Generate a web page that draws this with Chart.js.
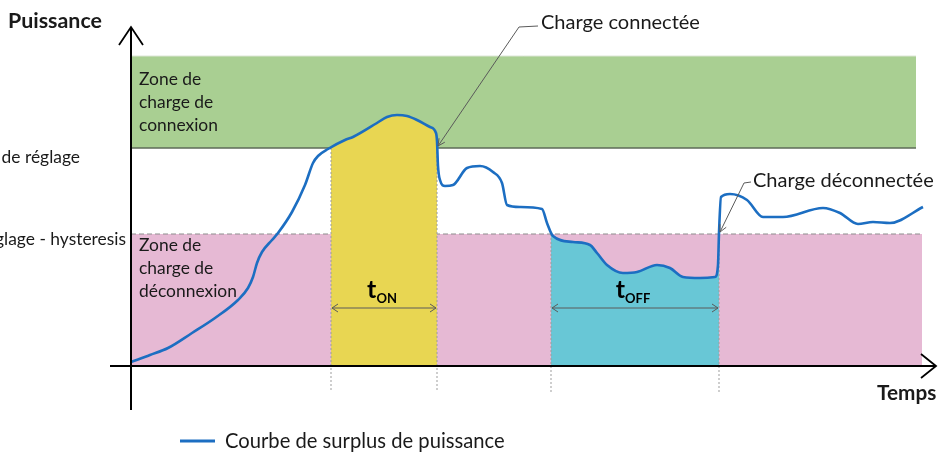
<!DOCTYPE html>
<html><head><meta charset="utf-8">
<script src="https://cdn.jsdelivr.net/npm/chart.js@4/dist/chart.umd.min.js"></script>
<style>html,body{margin:0;padding:0;background:#fff;}canvas{display:block;}</style>
</head><body>
<canvas id="c" width="938" height="454"></canvas>
<script>
// ---------- data (time / power in arbitrary units) ----------
const curveLabel = 'Courbe de surplus de puissance';
const curveX = [0,19,37,61,84,107,117,122,126,131,141,147,161,174,182,187,197,214,222,246,256,266,276,286,299,305,306,307,309,314,322,336,349,362,371,376,389,411,416,422,442,459,466,476,492,506,526,539,552,569,584,587,588,590,599,616,632,652,692,709,727,742,759,792];
const curveY = [4,11,18,33,48,66,78,89,103,114,126,133,154,181,203,210,217,226,229,243,249,251,250,246,239,233,225,200,186,180,181,198,200,194,183,161,159,157,143,130,124,121,113,101,93,94,101,98,89,88,89,101,133,169,172,166,149,149,158,153,142,144,143,159];
const onFillX = [200,214,222,246,256,266,276,286,299,305,306];
const onFillY = [218,226,229,243,249,251,250,246,239,233,225];
const offFillX = [420,422,442,459,466,476,492,506,526,539,552,569,584,587,588];
const offFillY = [134,130,124,121,113,101,93,94,101,98,89,88,89,101,133];
const seuilReglage = 218;
const seuilHysteresis = 132;
const zoneConnexionTop = 310;
const zoneConnexionEnd = 785;
const zoneDeconnexionEnd = 791;
const tOn = [200, 306];
const tOff = [420, 588];
const markerBottom = -26;
const durationLevel = 58;
const yAxisLabel = 'Puissance';
const xAxisLabel = 'Temps';
const seuilLabels = ['Seuil de réglage', 'Seuil de réglage - hysteresis'];
const zoneConnexionLines = ['Zone de', 'charge de', 'connexion'];
const zoneDeconnexionLines = ['Zone de', 'charge de', 'déconnexion'];
const calloutOn = 'Charge connectée';
const calloutOff = 'Charge déconnectée';

// ---------- styles ----------
const FAMILY = 'Lato, "Noto Sans", sans-serif';
const BLUE = '#1c6ec2';
const GREEN = '#a9cf92';
const PINK = '#e6b9d4';
const YELLOW = '#e8d652';
const CYAN = '#68c7d6';
const GREY = '#5a5a5a';

const pts = (xs, ys) => xs.map((v, i) => ({x: v, y: ys[i]}));
const hline = (x0, x1, v) => [{x: x0, y: v}, {x: x1, y: v}];
const vline = (xv, y0, y1) => [{x: xv, y: y0}, {x: xv, y: y1}];
const marker = (d) => ({data: d, borderColor: '#9d9d9d', borderWidth: 1, borderDash: [2, 2], fill: false});

const datasets = [
  {label: curveLabel, data: pts(curveX, curveY), borderColor: BLUE, borderWidth: 2.6, cubicInterpolationMode: 'monotone', fill: false},
  marker(vline(tOn[0], seuilReglage, markerBottom)),
  marker(vline(tOn[1], seuilReglage, markerBottom)),
  marker(vline(tOff[0], seuilHysteresis, markerBottom)),
  marker(vline(tOff[1], seuilHysteresis, markerBottom)),
  {data: pts(onFillX, onFillY), borderWidth: 0, borderColor: 'rgba(0,0,0,0)', backgroundColor: YELLOW, cubicInterpolationMode: 'monotone', fill: 'origin'},
  {data: pts(offFillX, offFillY), borderWidth: 0, borderColor: 'rgba(0,0,0,0)', backgroundColor: CYAN, cubicInterpolationMode: 'monotone', fill: 'origin'},
  {data: hline(0, zoneConnexionEnd, seuilReglage), borderColor: '#5e6b57', borderWidth: 1.3, fill: false},
  {data: hline(0, zoneConnexionEnd, zoneConnexionTop), borderColor: '#dde6d6', borderWidth: 1, backgroundColor: GREEN, fill: 7},
  {data: hline(0, zoneDeconnexionEnd, seuilHysteresis), borderColor: '#8d8d8d', borderWidth: 1.2, borderDash: [5, 3], backgroundColor: PINK, fill: 'origin'}
];

function fitSize(ctx, text, target, weight) {
  ctx.font = weight + ' 100px ' + FAMILY;
  return 100 * target / ctx.measureText(text).width;
}
function chevron(ctx, tx, ty, dx, dy, len, half) {
  const n = Math.hypot(dx, dy); dx /= n; dy /= n;
  const px = -dy, py = dx;
  ctx.beginPath();
  ctx.moveTo(tx - dx * len + px * half, ty - dy * len + py * half);
  ctx.lineTo(tx, ty);
  ctx.lineTo(tx - dx * len - px * half, ty - dy * len - py * half);
  ctx.stroke();
}

const overlay = {
  id: 'overlay',
  afterDatasetsDraw(chart) {
    const {ctx} = chart;
    const xs = chart.scales.x, ys = chart.scales.y;
    const X = v => xs.getPixelForValue(v), Y = v => ys.getPixelForValue(v);
    ctx.save();
    const body = fitSize(ctx, 'connexion', 79, 'normal');
    const callout = fitSize(ctx, calloutOn, 159, 'normal');
    const legendSize = fitSize(ctx, curveLabel, 280, 'normal');
    const bold = fitSize(ctx, yAxisLabel, 94, 'bold');

    // axes
    ctx.strokeStyle = '#000'; ctx.lineWidth = 2; ctx.lineCap = 'butt';
    ctx.beginPath(); ctx.moveTo(X(0), Y(-44)); ctx.lineTo(X(0), Y(339)); ctx.stroke();
    ctx.beginPath(); ctx.moveTo(X(-21), Y(0)); ctx.lineTo(X(805), Y(0)); ctx.stroke();
    ctx.lineWidth = 1.8;
    chevron(ctx, X(0), Y(339), 0, -1, 18, 12);
    chevron(ctx, X(805), Y(0), 1, 0, 15, 12);

    // duration arrows
    ctx.strokeStyle = GREY; ctx.lineWidth = 1;
    [tOn, tOff].forEach(r => {
      const a = X(r[0]) + 1, b = X(r[1]) - 1, yy = Y(durationLevel);
      ctx.beginPath(); ctx.moveTo(a, yy); ctx.lineTo(b, yy); ctx.stroke();
      chevron(ctx, a, yy, -1, 0, 6, 4);
      chevron(ctx, b, yy, 1, 0, 6, 4);
    });

    // callouts
    ctx.beginPath(); ctx.moveTo(X(407), Y(340)); ctx.lineTo(X(388), Y(339)); ctx.lineTo(X(307), Y(220)); ctx.stroke();
    chevron(ctx, X(307), Y(220), X(307) - X(388), Y(220) - Y(339), 7, 3.5);
    ctx.beginPath(); ctx.moveTo(X(620), Y(184)); ctx.lineTo(X(613), Y(183)); ctx.lineTo(X(589), Y(134)); ctx.stroke();
    chevron(ctx, X(589), Y(134), X(589) - X(613), Y(134) - Y(183), 7, 3.5);

    // texts
    ctx.fillStyle = '#1a1a1a';
    ctx.textBaseline = 'middle';
    ctx.font = 'normal ' + body.toFixed(2) + 'px ' + FAMILY;
    ctx.textAlign = 'left';
    zoneConnexionLines.forEach((t, i) => ctx.fillText(t, X(8), Y(287) + i * 23));
    zoneDeconnexionLines.forEach((t, i) => ctx.fillText(t, X(8), Y(121) + i * 23));
    ctx.textAlign = 'right';
    ctx.fillText(seuilLabels[0], X(-51), Y(209));
    ctx.fillText(seuilLabels[1], X(-5), Y(127));
    ctx.textAlign = 'left';
    ctx.font = 'normal ' + callout.toFixed(2) + 'px ' + FAMILY;
    ctx.fillText(calloutOn, X(410), Y(343));
    ctx.fillText(calloutOff, X(622), Y(185));

    ctx.font = 'bold ' + bold.toFixed(2) + 'px ' + FAMILY;
    ctx.fillText(yAxisLabel, X(-123), Y(345));
    ctx.font = 'bold ' + (bold * 0.97).toFixed(2) + 'px ' + FAMILY;
    ctx.fillText(xAxisLabel, X(746), Y(-27));

    // t_ON / t_OFF labels
    ctx.textBaseline = 'alphabetic';
    [[tOn, 'ON'], [tOff, 'OFF']].forEach(([r, sub]) => {
      ctx.font = 'bold 25px ' + FAMILY;
      const wt = ctx.measureText('t').width;
      ctx.font = 'bold 13px ' + FAMILY;
      const ws = ctx.measureText(sub).width;
      const x0 = X((r[0] + r[1]) / 2) - (wt + ws) / 2 - 2;
      const yb = Y(durationLevel) - 10;
      ctx.font = 'bold 25px ' + FAMILY;
      ctx.fillStyle = '#000';
      ctx.fillText('t', x0, yb);
      ctx.font = 'bold 13px ' + FAMILY;
      ctx.fillText(sub, x0 + wt, yb + 5);
    });

    // legend
    const ds = chart.data.datasets[0];
    ctx.strokeStyle = ds.borderColor; ctx.lineWidth = 3;
    ctx.beginPath(); ctx.moveTo(X(49), Y(-75)); ctx.lineTo(X(84), Y(-75)); ctx.stroke();
    ctx.fillStyle = '#1a1a1a';
    ctx.textBaseline = 'middle';
    ctx.font = 'normal ' + legendSize.toFixed(2) + 'px ' + FAMILY;
    ctx.fillText(ds.label, X(94), Y(-75));
    ctx.restore();
  }
};

new Chart(document.getElementById('c'), {
  type: 'line',
  data: {datasets},
  options: {
    responsive: false,
    animation: false,
    devicePixelRatio: 1,
    layout: {padding: 0},
    elements: {point: {radius: 0, hoverRadius: 0}, line: {tension: 0}},
    scales: {
      x: {type: 'linear', min: -131, max: 807, display: false},
      y: {type: 'linear', min: -88, max: 366, display: false}
    },
    plugins: {legend: {display: false}, tooltip: {enabled: false}, filler: {propagate: false}},
    events: []
  },
  plugins: [overlay]
});
</script>
</body></html>
